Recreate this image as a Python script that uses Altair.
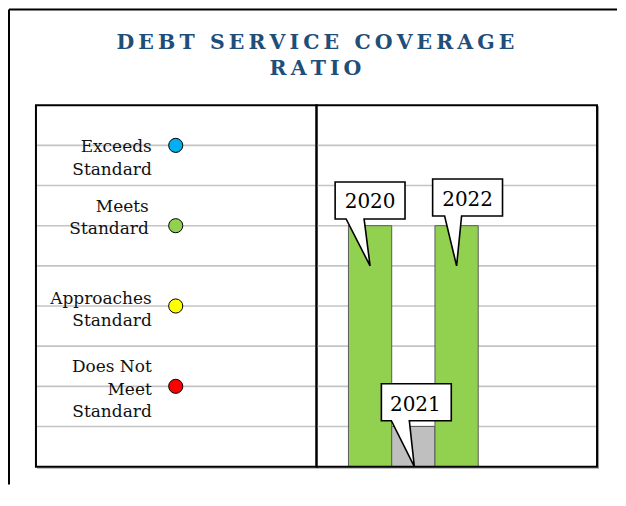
import altair as alt
import pandas as pd

# ---------------- data ----------------
levels = ["Exceeds Standard", "Meets Standard", "Approaches Standard", "Does Not Meet Standard"]
level_labels = ["Exceeds\nStandard", "Meets\nStandard", "Approaches\nStandard", "Does Not\nMeet\nStandard"]
level_values = [8, 6, 4, 2]
level_colors = ["#00B0F0", "#92D050", "#FFFF00", "#FF0000"]

years = ["2020", "2021", "2022"]
year_values = [6, 1, 6]
year_colors = ["#92D050", "#BFBFBF", "#92D050"]

grid_values = [1, 2, 3, 4, 5, 6, 7, 8]
title_lines = ["DEBT SERVICE COVERAGE", "RATIO"]

# ---------------- styles ----------------
W, H = 281, 362
BAR_RANGE = [32, 162]
SERIF = "DejaVu Serif"
GRID = "#C4C4C4"
TITLE_COLOR = "#1F4E79"

# per-label text offsets (dx, dy)
LABEL_STYLE = {
    "Exceeds Standard": (0, 2),
    "Meets Standard": (-3, -19),
    "Approaches Standard": (0, -7),
    "Does Not Meet Standard": (0, -19),
}
# callout outline (pixel path relative to the tip) and text offsets
CALLOUT = {
    "2020": dict(path="M -35 -84 L 35 -84 L 35 -47 L -6 -47 L 0 0 L -24 -47 L -35 -47 Z", dx=0, dy=-64),
    "2021": dict(path="M -32 -83 L 38 -83 L 38 -46 L -4 -46 L 1 0 L -22 -46 L -32 -46 Z", dx=2, dy=-62),
    "2022": dict(path="M -24 -87 L 46 -87 L 46 -50 L 5 -50 L 0 0 L -12 -50 L -24 -50 Z", dx=11, dy=-66),
}


def spaced(s):
    out = []
    for w in s.split(" "):
        out.append("\u2009".join(list(w)))
    return "\u2009 \u2009".join(out)


levels_df = pd.DataFrame({"level": levels, "label": level_labels, "value": level_values})
years_df = pd.DataFrame({"year": years, "value": year_values})
grid_df = pd.DataFrame({"g": grid_values})
title_df = pd.DataFrame({"t": ["\n".join(spaced(l) for l in title_lines)]})
one = pd.DataFrame({"a": [0]})


def yenc(field):
    return alt.Y(field, type="quantitative", scale=alt.Scale(domain=[0, 9], nice=False), axis=None)


grid = alt.Chart(grid_df).mark_rule(color=GRID, strokeWidth=1.6).encode(
    x=alt.value(0), x2=alt.value(W), y=yenc("g")
)
shadow = alt.Chart(one).mark_rule(color="#9a9a9a", strokeWidth=1).encode(
    x=alt.value(1), x2=alt.value(W + 2), y=alt.value(H + 1.5)
)
border = alt.Chart(one).mark_rect(filled=False, stroke="black", strokeWidth=2).encode(
    x=alt.value(0), x2=alt.value(W), y=alt.value(0), y2=alt.value(H)
)

# ---------------- left panel (legend of levels) ----------------
base_l = alt.Chart(levels_df)
dots = base_l.mark_circle(size=200, stroke="black", strokeWidth=1, opacity=1).encode(
    x=alt.value(140),
    y=yenc("value"),
    color=alt.Color("level:N", scale=alt.Scale(domain=levels, range=level_colors), legend=None),
)
label_layers = []
for lv in levels:
    dx, dy = LABEL_STYLE[lv]
    label_layers.append(
        base_l.transform_filter(alt.datum.level == lv)
        .mark_text(align="right", baseline="middle", font=SERIF, fontSize=17, lineHeight=22.5,
                   lineBreak="\n", color="#111111", dx=dx, dy=dy)
        .encode(x=alt.value(116), y=yenc("value"), text="label:N")
    )

frame_left = alt.Chart(one).mark_rule(color="black", strokeWidth=2).encode(
    x=alt.value(-27), y=alt.value(-96), y2=alt.value(380)
)
frame_top = alt.Chart(one).mark_rule(color="black", strokeWidth=2).encode(
    x=alt.value(-27), x2=alt.value(582), y=alt.value(-96)
)
title = alt.Chart(title_df).mark_text(
    align="center", baseline="alphabetic", font=SERIF, fontWeight="bold", fontSize=20.5,
    lineHeight=26, lineBreak="\n", color=TITLE_COLOR
).encode(x=alt.value(280), y=alt.value(-56), text="t:N")

left = alt.layer(grid, shadow, dots, *label_layers, border, frame_left, frame_top, title).properties(width=W, height=H)

# ---------------- right panel (bars) ----------------
xscale = alt.Scale(domain=years, range=BAR_RANGE, paddingInner=0, paddingOuter=0)
base_r = alt.Chart(years_df)
bars = base_r.mark_bar(stroke="#5a5a5a", strokeWidth=1).encode(
    x=alt.X("year:N", scale=xscale, axis=None),
    y=yenc("value"),
    color=alt.Color("year:N", scale=alt.Scale(domain=years, range=year_colors), legend=None),
)
callouts = base_r.transform_calculate(tip="datum.value - 1").mark_point(
    filled=True, fill="white", stroke="black", strokeWidth=1.6, size=4, opacity=1
).encode(
    x=alt.X("year:N", scale=xscale, axis=None),
    y=yenc("tip"),
    shape=alt.Shape("year:N", scale=alt.Scale(domain=years, range=[CALLOUT[y]["path"] for y in years]), legend=None),
)
text_layers = []
for yr in years:
    c = CALLOUT[yr]
    text_layers.append(
        base_r.transform_filter(alt.datum.year == yr)
        .transform_calculate(tip="datum.value - 1")
        .mark_text(align="center", baseline="middle", font=SERIF, fontSize=20, color="black",
                   dx=c["dx"], dy=c["dy"])
        .encode(x=alt.X("year:N", scale=xscale, axis=None), y=yenc("tip"), text="year:N")
    )

shadow_r = alt.Chart(one).mark_rule(color="#9a9a9a", strokeWidth=1).encode(
    x=alt.value(W + 1.5), y=alt.value(1), y2=alt.value(H + 2)
)
right = alt.layer(grid, shadow, shadow_r, bars, border, callouts, *text_layers).properties(width=W, height=H)

chart = (
    alt.hconcat(left, right, spacing=0, bounds="flush")
    .resolve_scale(color="independent", shape="independent")
    .properties(padding=0, background="white")
    .configure_view(stroke=None)
)

chart.save("out.html", embed_options={"renderer": "svg", "actions": False})
